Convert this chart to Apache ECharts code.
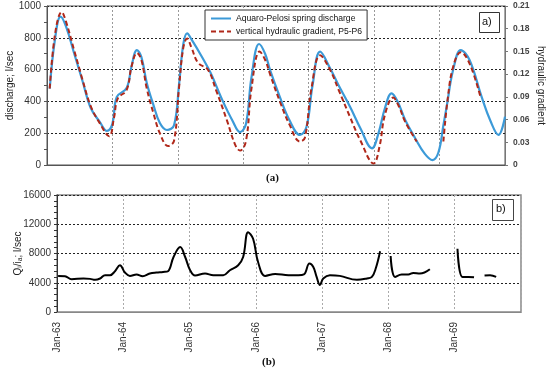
<!DOCTYPE html>
<html><head><meta charset="utf-8">
<script src="https://cdn.jsdelivr.net/npm/echarts@6/dist/echarts.min.js"></script>
<style>html,body{margin:0;padding:0;background:#fff}#c{width:550px;height:373px}</style>
</head><body><div id="c"></div>
<script>
// months counted from Jan-63
const yearLabels = ['Jan-63','Jan-64','Jan-65','Jan-66','Jan-67','Jan-68','Jan-69'];
const dischargeMonths = [0.5,1.5,2.5,3.5,5,6.5,8,9.7,11,12,12.8,14.6,15.5,16.5,17.3,18.3,19.5,20.7,22,23.3,24.2,25,25.7,26.5,28.4,30,32,34,35.4,36.5,37.5,38.9,40,40.9,42.7,44.5,46.4,47.6,48.7,50.1,51.9,53.5,55.6,57.5,59.6,60.8,62,63.2,64.3,65.7,67.5,69.3,70.7,71.8,72.7,73.3,74.5,75.9,77.5,79.7,81.3,82.8,84];
const dischargeValues = [480,800,933,870,700,530,360,270,214,260,428,484,620,723,680,516,380,264,220,250,500,760,828,790,681,580,420,280,207,260,550,761,700,598,428,280,189,240,500,713,610,500,365,230,105,200,360,451,400,283,170,70,31,80,250,367,600,723,660,430,280,189,304];
const gradientMonths = [0.5,1.5,2.7,3.5,5,6.5,8,9.7,11.4,12.3,13,14.6,15.5,16.5,17.3,18.3,19.5,20.7,22.2,23.3,24.2,25,25.7,26.5,27.7,29.5,31,33,34.5,35.4,36.5,37.5,39,40,41,42.7,44.5,46.4,47.3,48.5,50.1,51.9,53.5,55.6,57.5,59.9,61,62,63.5,64.5,65.7,67.8,70,72.7,73.5,74.5,75.9,77.5,79.5];
const gradientValues = [0.101,0.174,0.202,0.189,0.151,0.113,0.078,0.055,0.038,0.063,0.088,0.099,0.130,0.148,0.139,0.101,0.069,0.042,0.025,0.032,0.101,0.155,0.167,0.155,0.135,0.126,0.099,0.059,0.027,0.019,0.032,0.101,0.150,0.139,0.118,0.084,0.053,0.031,0.036,0.101,0.145,0.126,0.099,0.063,0.032,0.002,0.025,0.067,0.089,0.078,0.057,0.031,null,0.031,0.088,0.130,0.149,0.134,0.090];
const qiMonths = [0.2,1.45,2.65,4.8,6,6.9,7.8,8.7,9.6,10.5,11.4,12.3,13.2,14.4,15.5,16.8,18,19.2,20.1,21.1,22.3,23.2,24.1,25,26.8,28.3,30.1,31.3,32.8,33.7,34.6,35.5,36.4,37.7,39.5,41.9,43.7,44.7,45.7,46.4,47,47.6,48.2,49.4,51.2,54.3,56.1,57,57.7,58.5,59.5,60.4,61.2,62.4,63.6,64.5,65.7,67.5,70,72.5,73.4,74.5,75.5,76.5,77.4,78.4,79.5];
const qiValues = [4940,4900,4490,4580,4530,4400,4580,5030,5030,5580,6390,5400,4940,5130,4900,5260,5400,5480,5580,7520,8880,7520,5710,4990,5260,5030,5030,5710,6390,7520,10920,10020,6840,4940,5210,5030,5030,5130,6620,6160,4800,3690,4580,5030,4940,4400,4580,4800,5940,8300,null,7660,4800,5130,5130,5350,5260,5850,null,8660,4800,4800,4760,null,4990,5030,4800];

const pair = (xs, ys) => xs.map((x, i) => [x, ys[i]]);
const FONT = 'Liberation Sans';
const plain = v => String(v);
const chart = echarts.init(document.getElementById('c'), null, {renderer: 'canvas'});
chart.setOption({
  animation: false,
  textStyle: {fontFamily: FONT},
  grid: [
    {left: 47, top: 6, width: 458, height: 159, show: true, borderColor: '#555', borderWidth: 1,
     containLabel: false, outerBoundsMode: 'none'},
    {left: 57, top: 195, width: 464, height: 117, show: true, borderColor: '#888', borderWidth: 1.5,
     containLabel: false, outerBoundsMode: 'none'}
  ],
  legend: {
    left: 205, top: 10, orient: 'vertical', itemWidth: 20, itemHeight: 8, itemGap: 4,
    padding: [4, 5, 4, 5], borderColor: '#333', borderWidth: 1, backgroundColor: '#fff',
    itemStyle: {opacity: 0, borderWidth: 0},
    textStyle: {fontSize: 8.6, color: '#111', fontFamily: FONT},
    data: ['Aquaro-Pelosi spring discharge', 'vertical hydraulic gradient, P5-P6']
  },
  xAxis: [
    {gridIndex: 0, type: 'value', min: 0, max: 84, interval: 12,
     axisLine: {lineStyle: {color: '#555'}}, axisTick: {show: false}, axisLabel: {show: false},
     splitLine: {show: true, lineStyle: {color: '#999', type: [2, 2], width: 1}}},
    {gridIndex: 1, type: 'value', min: 0, max: 84, interval: 12,
     axisLine: {lineStyle: {color: '#888'}}, axisTick: {show: false},
     axisLabel: {rotate: 90, fontSize: 10, color: '#333', margin: 10,
       formatter: v => yearLabels[Math.round(v / 12)] || ''},
     splitLine: {show: true, lineStyle: {color: '#aaa', type: [2, 2], width: 1}}}
  ],
  yAxis: [
    {gridIndex: 0, type: 'value', min: 0, max: 1000, interval: 200,
     name: 'discharge; l/sec', nameLocation: 'middle', nameGap: 32, nameRotate: 90, nameMoveOverlap: false,
     nameTextStyle: {fontSize: 10, color: '#222'},
     axisLine: {show: true, lineStyle: {color: '#555'}},
     axisTick: {show: true, length: 3, lineStyle: {color: '#555'}},
     minorTick: {show: true, splitNumber: 2, length: 3, lineStyle: {color: '#555'}},
     axisLabel: {fontSize: 10, color: '#333', margin: 6, formatter: plain},
     splitLine: {show: true, lineStyle: {color: '#222', type: [2, 2], width: 1}}},
    {gridIndex: 0, type: 'value', min: 0, max: 0.21, interval: 0.03, position: 'right',
     name: 'hydraulic gradient', nameLocation: 'middle', nameGap: 31, nameRotate: -90, nameMoveOverlap: false,
     nameTextStyle: {fontSize: 10, color: '#222'},
     axisLine: {show: true, lineStyle: {color: '#777'}},
     axisTick: {show: true, length: 3, lineStyle: {color: '#777'}},
     axisLabel: {fontSize: 8.5, fontWeight: 'bold', color: '#444', margin: 8,
       formatter: v => v === 0 ? '0' : v.toFixed(2)},
     splitLine: {show: false}},
    {gridIndex: 1, type: 'value', min: 0, max: 16000, interval: 4000,
     name: 'Qᵢ/iₐ; l/sec', nameLocation: 'middle', nameGap: 34, nameRotate: 90, nameMoveOverlap: false,
     nameTextStyle: {fontSize: 10, color: '#222'},
     axisLine: {show: true, lineStyle: {color: '#333'}},
     axisTick: {show: true, length: 3, lineStyle: {color: '#333'}},
     minorTick: {show: true, splitNumber: 5, length: 3, lineStyle: {color: '#333'}},
     axisLabel: {fontSize: 10, color: '#333', margin: 6, formatter: plain},
     splitLine: {show: true, lineStyle: {color: '#222', type: [2, 2], width: 1}}}
  ],
  series: [
    {name: 'Aquaro-Pelosi spring discharge', type: 'line', xAxisIndex: 0, yAxisIndex: 0,
     data: pair(dischargeMonths, dischargeValues), smooth: 0.4, symbol: 'none', showSymbol: false,
     lineStyle: {color: '#3c9ad8', width: 2.2}, itemStyle: {color: '#3c9ad8'}, z: 2},
    {name: 'vertical hydraulic gradient, P5-P6', type: 'line', xAxisIndex: 0, yAxisIndex: 1,
     data: pair(gradientMonths, gradientValues), smooth: 0.4, symbol: 'none', showSymbol: false,
     connectNulls: false,
     lineStyle: {color: '#b0281a', width: 2, type: [5, 3]}, itemStyle: {color: '#b0281a'}, z: 3},
    {name: 'Qi', type: 'line', xAxisIndex: 1, yAxisIndex: 2,
     data: pair(qiMonths, qiValues), smooth: 0.4, symbol: 'none', showSymbol: false,
     connectNulls: false, lineStyle: {color: '#000', width: 2}}
  ],
  graphic: [
    {type: 'rect', left: 479, top: 12, shape: {width: 20, height: 20},
     style: {fill: '#fff', stroke: '#333', lineWidth: 1}},
    {type: 'text', left: 482, top: 16, style: {text: 'a)', font: '11px "Liberation Sans"', fill: '#111'}},
    {type: 'rect', left: 492, top: 199, shape: {width: 21, height: 21},
     style: {fill: '#fff', stroke: '#444', lineWidth: 1}},
    {type: 'text', left: 496, top: 203, style: {text: 'b)', font: '11px "Liberation Sans"', fill: '#111'}},
    {type: 'text', left: 266, top: 173, style: {text: '(a)', font: 'bold 11px "Liberation Serif"', fill: '#111'}},
    {type: 'text', left: 262, top: 357, style: {text: '(b)', font: 'bold 11px "Liberation Serif"', fill: '#111'}}
  ]
});
</script></body></html>
